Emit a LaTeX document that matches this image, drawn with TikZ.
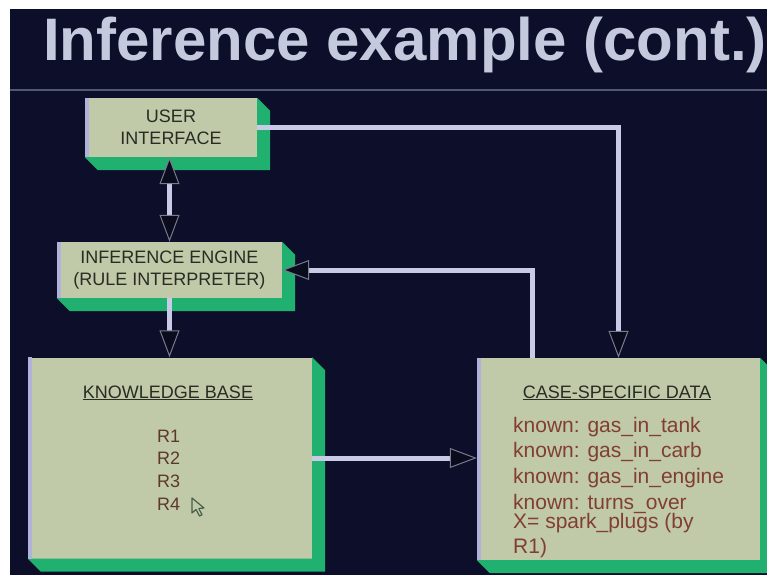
\documentclass[tikz,border=0pt]{standalone}
\usepackage{fontspec}
\setmainfont{Liberation Sans}
\usetikzlibrary{arrows.meta}

\definecolor{slidebg}{RGB}{12,14,42}
\definecolor{titlecol}{RGB}{197,201,222}
\definecolor{sepcol}{RGB}{80,86,120}
\definecolor{facecol}{RGB}{192,202,168}
\definecolor{sidecol}{RGB}{32,176,112}
\definecolor{edgecol}{RGB}{176,178,220}
\definecolor{linecol}{RGB}{200,202,230}
\definecolor{tipfill}{RGB}{10,12,30}
\definecolor{tipedge}{RGB}{120,124,140}
\definecolor{inkcol}{RGB}{40,44,36}
\definecolor{datacol}{RGB}{130,62,50}
\definecolor{cursorcol}{RGB}{70,96,74}

\tikzset{
  Head/.tip={Triangle[length=27pt,width=20pt,line width=1pt,color=tipedge,fill=tipfill]},
  slab/.style={fill=facecol, draw=none, inner sep=0pt, align=center,
    text=inkcol, font=\fontsize{18}{22}\selectfont},
  heading/.style={text=inkcol, inner sep=0pt, font=\fontsize{18}{22}\selectfont},
  datatext/.style={text=datacol, inner sep=0pt, font=\fontsize{21}{25}\selectfont},
  link/.style={draw=linecol, line width=5pt}
}

\begin{document}
\begin{tikzpicture}[x=1pt,y=-1pt]
  \useasboundingbox (0,0) rectangle (767,575);
  \fill[slidebg] (0,0) rectangle (767,575);
  \fill[white] (0,0) rectangle (10,575);
  \fill[white] (0,0) rectangle (767,9);
  \draw[sepcol, line width=2pt] (10,90) -- (767,90);

  \node[anchor=base west, inner sep=0pt, text=titlecol,
    font=\fontsize{60}{60}\selectfont\bfseries] (title) at (43,61) {Inference example (cont.)};

  % boxes
  \node[slab, minimum width=172pt, minimum height=59pt] (ui) at (171,127.5) {USER\\INTERFACE};
  \node[slab, minimum width=225pt, minimum height=56pt] (ie) at (169.5,270) {INFERENCE ENGINE\\(RULE INTERPRETER)};
  \node[slab, minimum width=284pt, minimum height=201pt] (kb) at (170,458) {};
  \node[slab, minimum width=283pt, minimum height=202pt] (csd) at (618.5,459) {};

  \foreach \n in {ui,ie,kb,csd}{
    \fill[sidecol] (\n.north east) -- ([shift={(13,13)}]\n.north east)
      -- ([shift={(13,13)}]\n.south east) -- ([shift={(13,13)}]\n.south west)
      -- (\n.south west) -- (\n.south east) -- cycle;
    \fill[edgecol] (\n.north west) rectangle ([xshift=4pt]\n.south west);
  }

  % box contents
  \node[heading, anchor=base] (kbtitle) at (168,398) {\underline{KNOWLEDGE BASE}};
  \foreach \i in {1,...,4}
    \node[heading, text=datacol!60!inkcol, anchor=base west] (r\i) at (157,{442+22.7*(\i-1)}) {R\i};
  \draw[cursorcol, line width=1.2pt, line join=round] (192,498) -- (192,513) -- (196,509.5)
    -- (199.5,516) -- (202,514.8) -- (198.8,508.5) -- (204,508) -- cycle;

  \node[heading, anchor=base] (csdtitle) at (617,398) {\underline{CASE-SPECIFIC DATA}};
  \foreach \y/\t [count=\k] in {432/known: gas\_in\_tank, 457/known: gas\_in\_carb,
      483/known: gas\_in\_engine, 509/known: turns\_over,
      528/X= spark\_plugs (by, 553/R1)}
    \node[datatext, anchor=base west] (line\k) at (513,\y) {\t};

  % connectors
  \coordinate (csdout) at ([xshift=-86pt]csd.north);
  \draw[link, {Head}-{Head}] (ie.north |- ui.south) -- (ie.north);
  \draw[link, -{Head}] (ie.south) -- (ie.south |- kb.north);
  \draw[link, -{Head}] (ui.east) -- (csd.north |- ui.east) -- (csd.north);
  \draw[link, -{Head}] (csdout) |- (ie.east);
  \draw[link, -{Head}] (kb.east) -- (kb.east -| csd.west);
\end{tikzpicture}
\end{document}
